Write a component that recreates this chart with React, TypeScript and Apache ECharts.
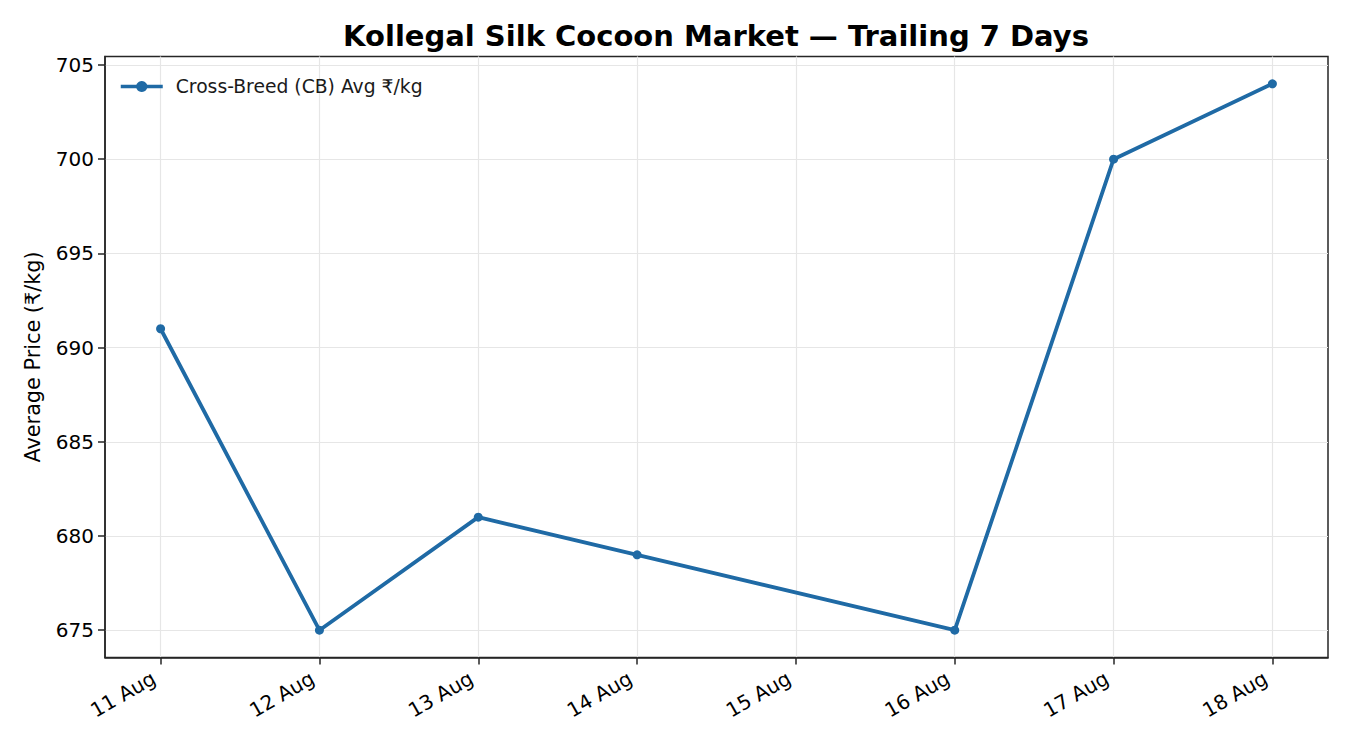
import React, { useEffect, useRef } from "react";
import * as echarts from "echarts";

const tickDays = [11, 12, 13, 14, 15, 16, 17, 18];
const tickLabels = ["11 Aug", "12 Aug", "13 Aug", "14 Aug", "15 Aug", "16 Aug", "17 Aug", "18 Aug"];
const pointDays = [11, 12, 13, 14, 16, 17, 18];
const prices = [691, 675, 681, 679, 675, 700, 704];
const yTicks = [675, 680, 685, 690, 695, 700, 705];

const FONT = "DejaVu Sans";
const LINE = "#1f6aa5";
const AXIS = "#262626";

export default function App() {
  const ref = useRef<HTMLDivElement>(null);
  useEffect(() => {
    document.body.style.margin = "0";
    if (!ref.current) return;
    const chart = echarts.init(ref.current, undefined, { renderer: "svg" });
    chart.setOption({
      animation: false,
      backgroundColor: "#ffffff",
      textStyle: { fontFamily: FONT },
      title: {
        text: "Kollegal Silk Cocoon Market — Trailing 7 Days",
        left: 711,
        textAlign: "center",
        top: 16,
        textStyle: { fontFamily: FONT, fontSize: 29, fontWeight: "bold", color: "#000" },
      },
      legend: {
        left: 114,
        top: 72,
        itemWidth: 42,
        itemHeight: 14,
        lineStyle: { width: 3.5 },
        textStyle: { fontFamily: FONT, fontSize: 18.75, color: "#1a1a1a", padding: [0, 0, 0, 8] },
        data: [{ name: "Cross-Breed (CB) Avg ₹/kg" }],
      },
      grid: { left: 105, right: 22, top: 56.5, bottom: 92.5, show: true, borderColor: AXIS, borderWidth: 1.5 },
      xAxis: {
        type: "value",
        min: 10.65,
        max: 18.35,
        axisLine: { show: true, onZero: false, lineStyle: { color: AXIS, width: 1.5 } },
        axisTick: { show: true, length: 7, customValues: tickDays, lineStyle: { color: AXIS, width: 1.5 } },
        axisLabel: {
          customValues: tickDays,
          rotate: 30,
          fontFamily: FONT,
          fontSize: 20,
          color: "#000",
          margin: 15,
          padding: [0, 8, 0, 0],
          formatter: (v: number) => tickLabels[tickDays.indexOf(Math.round(v))] ?? "",
        },
        splitLine: { show: true, lineStyle: { color: "#e6e6e6", width: 1.2 } },
      },
      yAxis: {
        type: "value",
        min: 673.55,
        max: 705.45,
        name: "Average Price (₹/kg)",
        nameLocation: "middle",
        nameGap: 62,
        nameTextStyle: { fontFamily: FONT, fontSize: 20.8, color: "#000" },
        axisLine: { show: true, lineStyle: { color: AXIS, width: 1.5 } },
        axisTick: { show: true, length: 7, customValues: yTicks, lineStyle: { color: AXIS, width: 1.5 } },
        axisLabel: { customValues: yTicks, fontFamily: FONT, fontSize: 20, color: "#000", margin: 11 },
        splitLine: { show: true, lineStyle: { color: "#e6e6e6", width: 1.2 } },
      },
      series: [
        {
          name: "Cross-Breed (CB) Avg ₹/kg",
          type: "line",
          data: pointDays.map((d, i) => [d, prices[i]]),
          symbol: "circle",
          symbolSize: 9,
          lineStyle: { color: LINE, width: 3.8 },
          itemStyle: { color: LINE },
        },
      ],
    });
    return () => chart.dispose();
  }, []);
  return <div ref={ref} style={{ width: 1350, height: 750 }} />;
}
